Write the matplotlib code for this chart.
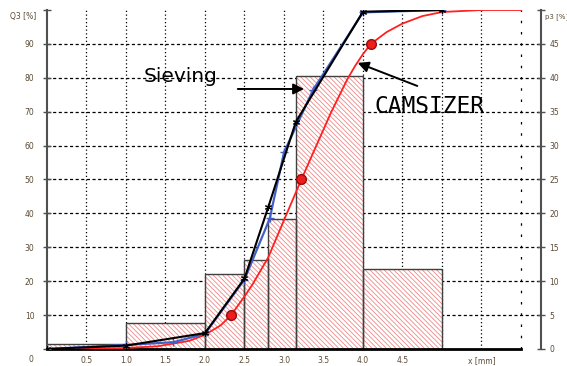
import numpy as np
import matplotlib
matplotlib.use("Agg")
import matplotlib.pyplot as plt

# sieve classes (mm) and density p3 (%)
edges = [0, 1.0, 2.0, 2.5, 2.8, 3.15, 4.0, 5.0]
p3 = [0.7, 3.9, 11.1, 13.1, 19.2, 40.2, 11.8]

# Q3 sieving (black)
sieve_x = [0, 1.0, 2.0, 2.5, 2.8, 3.15, 4.0, 5.0]
sieve_q = [0, 1.0, 4.7, 20.8, 41.8, 67.0, 99.5, 100]

# Q3 blue curve
blue_x = [0, 1.0, 1.6, 2.0, 2.5, 2.82, 3.0, 3.37, 4.0, 5.0]
blue_q = [0, 1.2, 2.0, 4.5, 20.5, 38.5, 58.0, 76.5, 99.3, 100]

# Q3 CAMSIZER (red)
cam_x = [0.2, 0.6, 1.0, 1.4, 1.8, 2.0, 2.2, 2.33, 2.5, 2.6, 2.8, 3.0, 3.22,
         3.4, 3.6, 3.8, 3.9, 4.0, 4.1, 4.3, 4.5, 4.75, 5.0, 5.5, 6.0]
cam_q = [0, 0.1, 0.3, 0.8, 2.4, 4.2, 7.0, 10, 15.5, 19, 27, 38, 50,
         59.5, 70, 79.5, 83.5, 87, 90, 93.5, 96, 98.2, 99.4, 100, 100]
# d10, d50, d90
dx = [2.33, 3.22, 4.1]
dq = [10, 50, 90]

xticks = [0.5, 1.0, 1.5, 2.0, 2.5, 3.0, 3.5, 4.0, 4.5]
grid_x = [0.5, 1.0, 1.5, 2.0, 2.5, 3.0, 3.5, 4.0, 4.5, 5.0, 5.5]

lab_col = '#5a4a35'
plt.rcParams['hatch.linewidth'] = 0.6

fig = plt.figure(figsize=(5.67, 3.66), dpi=100)
ax = fig.add_axes([47/567, 17/366, 494/567, 339/366])
ax2 = ax.twinx()

# grid + bars on the back axis
for gx in grid_x:
    ax2.axvline(gx, color='black', lw=0.9, ls=(0, (1, 2)), zorder=0)
ax2.axvline(6.0, color='black', lw=0.9, ls=(0, (2, 7)), zorder=0)
for gy in range(5, 50, 5):
    ax2.axhline(gy, color='black', lw=0.9, ls=(0, (2.5, 2)), zorder=0)

lefts = edges[:-1]
widths = np.diff(edges)
ax2.bar(lefts, p3, width=widths, align='edge', color='white',
        edgecolor='#f08888', lw=0, hatch='\\' * 7, zorder=2)
ax2.bar(lefts, p3, width=widths, align='edge', fill=False,
        edgecolor='#404040', lw=1.0, zorder=3)

ax2.set_ylim(0, 50)
ax2.set_yticks(range(0, 55, 5))
ax2.set_yticklabels([str(v) for v in range(0, 50, 5)] + [''])

# lines on the front axis
ax.set_zorder(ax2.get_zorder() + 1)
ax.patch.set_visible(False)
ax.plot(cam_x, cam_q, color='#ff2020', lw=1.3, zorder=3)
ax.plot(blue_x, blue_q, color='#4060c8', lw=1.6, marker='+', ms=6, mew=1, zorder=4)
ax.plot(sieve_x, sieve_q, color='black', lw=1.5, marker=(6, 2, 0), ms=5, mew=0.8, zorder=5)
ax.plot(dx, dq, 'o', color='#ee1c1c', mec='#901010', ms=7, zorder=6)

ax.set_xlim(0, 494/79)
ax.set_ylim(0, 100)
ax.set_xticks(xticks + [5.5])
ax.set_xticklabels([f'{v:.1f}' for v in xticks] + ['x [mm]'])
ax.set_yticks(range(0, 110, 10))
ax.set_yticklabels([''] + [str(v) for v in range(10, 100, 10)] + [''])
ax.text(-0.2, -3.2, '0', fontsize=5.5, color=lab_col, ha='center', va='center', clip_on=False)

for s in ['top', 'right']:
    ax.spines[s].set_visible(False)
for s in ['top', 'left', 'bottom']:
    ax2.spines[s].set_visible(False)
ax.spines['bottom'].set_bounds(0, 6)
ax.spines['bottom'].set_linewidth(2)
ax.spines['left'].set_color('#505050')
ax.spines['left'].set_linewidth(1.5)
ax2.spines['right'].set_color('#505050')
ax2.spines['right'].set_linewidth(1.5)

ax.tick_params(axis='x', length=0, pad=5, labelsize=5.5, labelcolor=lab_col)
ax.tick_params(axis='y', direction='inout', length=6, width=1, color='#505050',
               pad=6, labelsize=5.5, labelcolor=lab_col)
ax2.tick_params(axis='y', direction='inout', length=6, width=1, color='#505050',
                pad=3, labelsize=5.5, labelcolor=lab_col)

fig.text(10/567, 1 - 17/366, 'Q3 [%]', fontsize=5.5, color=lab_col, va='center')
fig.text(545/567, 1 - 17/366, 'p3 [%]', fontsize=5, color=lab_col, va='center')

ax.annotate('', xy=(3.29, 76.7), xytext=(2.38, 76.7),
            arrowprops=dict(arrowstyle='-|>', color='black', lw=1.4, mutation_scale=16))
ax.annotate('', xy=(3.9, 84.7), xytext=(4.72, 77.3),
            arrowprops=dict(arrowstyle='-|>', color='black', lw=1.4, mutation_scale=16))
ax.text(1.22, 78.8, 'Sieving', fontsize=14.5, family='DejaVu Sans', va='baseline')
ax.text(4.15, 69.6, 'CAMSIZER', fontsize=16.5, family='DejaVu Sans Mono', va='baseline')

fig.savefig('out.png', dpi=100)
